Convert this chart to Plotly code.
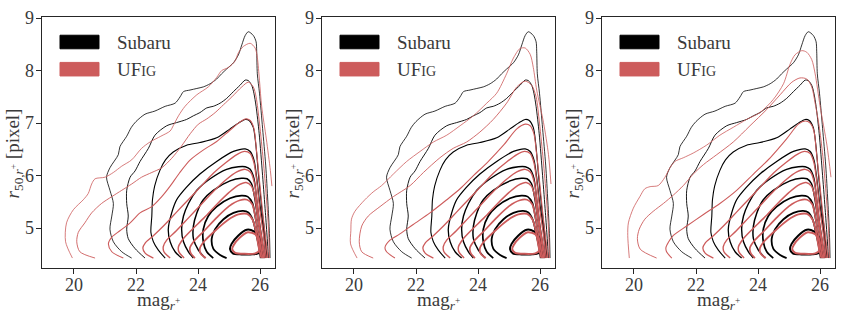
import plotly.graph_objects as go

# ---------------- data: contour lines ----------------
# Axis ticks
X_TICKS = [20, 22, 24, 26]
Y_TICKS = [5, 6, 7, 8, 9]
X_RANGE = [18.96, 26.48]
Y_RANGE = [4.24, 9.02]

# Subaru (black) contour levels, outermost -> innermost, identical in all panels
SUBARU_L1 = [(21.86,4.43),(21.54,4.55),(21.27,4.74),(21.16,4.98),(21.22,5.23),(21.27,5.47),(21.16,5.72),(21.05,5.97),(21.16,6.15),(21.43,6.40),(21.48,6.55),(21.70,6.75),(21.85,6.92),(22.00,7.03),(22.29,7.17),(22.61,7.23),(22.94,7.32),(23.26,7.38),(23.42,7.50),(23.53,7.60),(23.74,7.63),(23.96,7.66),(24.17,7.69),(24.39,7.75),(24.60,7.84),(24.76,7.94),(24.92,8.03),(25.14,8.15),(25.30,8.30),(25.41,8.49),(25.52,8.67),(25.62,8.74),(25.78,8.67),(25.87,8.55),(25.89,8.37),(25.91,7.94),(25.98,7.57),(26.08,6.90),(26.18,6.20),(26.25,5.50),(26.30,4.90),(26.32,4.43)]
SUBARU_L2 = [(22.29,4.43),(21.97,4.61),(21.75,4.80),(21.70,4.98),(21.75,5.23),(21.70,5.47),(21.70,5.72),(21.81,5.97),(21.97,6.09),(22.13,6.27),(22.40,6.52),(22.61,6.77),(22.99,6.95),(23.31,7.01),(23.63,7.07),(23.85,7.14),(24.06,7.20),(24.28,7.29),(24.49,7.32),(24.71,7.38),(24.92,7.47),(25.14,7.60),(25.35,7.72),(25.52,7.82),(25.62,7.81),(25.73,7.72),(25.80,7.57),(25.87,7.32),(25.97,6.80),(26.08,6.00),(26.17,5.30),(26.23,4.80),(26.27,4.43)]
SUBARU_L3 = [(22.94,4.43),(22.72,4.58),(22.56,4.74),(22.48,4.92),(22.51,5.23),(22.53,5.54),(22.60,5.80),(22.77,6.10),(22.95,6.30),(23.20,6.45),(23.63,6.58),(24.06,6.63),(24.60,6.72),(25.03,6.89),(25.30,7.00),(25.52,7.07),(25.65,7.05),(25.78,6.92),(25.86,6.60),(25.95,6.00),(26.05,5.40),(26.15,4.90),(26.22,4.43)]
SUBARU_L4 = [(23.47,4.43),(23.26,4.55),(23.10,4.74),(23.04,4.98),(23.15,5.29),(23.31,5.54),(23.63,5.78),(24.06,6.03),(24.60,6.27),(25.14,6.46),(25.52,6.51),(25.68,6.46),(25.80,6.30),(25.88,6.00),(25.98,5.50),(26.10,5.00),(26.18,4.43)]
SUBARU_L5 = [(23.85,4.43),(23.69,4.55),(23.53,4.74),(23.47,4.98),(23.53,5.23),(23.69,5.47),(23.96,5.72),(24.39,5.94),(24.92,6.12),(25.30,6.17),(25.52,6.17),(25.68,6.12),(25.80,5.95),(25.88,5.60),(25.98,5.10),(26.08,4.70),(26.14,4.43)]
SUBARU_L6 = [(24.23,4.43),(24.01,4.58),(23.85,4.80),(23.85,5.04),(23.96,5.29),(24.17,5.54),(24.49,5.72),(25.03,5.90),(25.40,5.95),(25.58,5.94),(25.72,5.85),(25.82,5.60),(25.92,5.20),(26.03,4.80),(26.10,4.43)]
SUBARU_L7 = [(24.49,4.43),(24.28,4.55),(24.17,4.74),(24.17,4.98),(24.33,5.23),(24.60,5.41),(25.03,5.57),(25.40,5.62),(25.60,5.60),(25.75,5.48),(25.85,5.20),(25.95,4.85),(26.06,4.43)]
SUBARU_L8 = [(24.92,4.43),(24.71,4.49),(24.49,4.61),(24.44,4.80),(24.55,4.98),(24.82,5.17),(25.14,5.29),(25.45,5.33),(25.62,5.30),(25.77,5.15),(25.87,4.90),(25.96,4.65),(26.02,4.43)]
SUBARU_L9 = [(25.57,4.97),(25.30,4.86),(25.08,4.70),(25.03,4.60),(25.12,4.52),(25.40,4.50),(25.75,4.50),(25.97,4.53),(26.00,4.65),(25.97,4.83),(25.80,4.94),(25.57,4.97)]

# UFig (red) outer three levels, per panel
UFIG_P1_L1 = [(19.95,4.43),(19.73,4.74),(19.76,5.10),(19.98,5.35),(20.30,5.54),(20.46,5.66),(20.57,5.84),(20.68,5.94),(21.00,5.97),(21.27,6.06),(21.54,6.18),(21.86,6.30),(22.18,6.52),(22.45,6.64),(22.80,6.75),(23.10,6.85),(23.20,6.95),(23.37,7.14),(23.58,7.32),(23.96,7.54),(24.33,7.69),(24.60,7.87),(24.76,8.00),(24.98,8.06),(25.19,8.18),(25.30,8.34),(25.46,8.46),(25.68,8.52),(25.84,8.43),(25.91,8.25),(25.98,7.81),(26.05,7.32),(26.20,6.70),(26.33,6.10),(26.38,5.80)]
UFIG_P1_L2 = [(20.68,4.43),(20.19,4.55),(20.09,4.74),(20.14,4.92),(20.35,5.10),(20.57,5.29),(20.89,5.47),(21.22,5.60),(21.54,5.72),(21.86,5.84),(22.18,5.97),(22.51,6.06),(22.83,6.15),(23.15,6.33),(23.45,6.55),(23.75,6.80),(24.01,6.98),(24.28,7.08),(24.55,7.20),(24.82,7.35),(25.09,7.50),(25.41,7.69),(25.62,7.78),(25.78,7.69),(25.87,7.50),(25.98,7.00),(26.10,6.30),(26.20,5.60),(26.27,5.00),(26.30,4.43)]
UFIG_P1_L3 = [(21.59,4.43),(21.22,4.55),(21.11,4.70),(21.22,4.83),(21.48,4.95),(21.81,5.10),(22.13,5.29),(22.51,5.41),(22.83,5.60),(23.10,5.80),(23.40,6.05),(23.75,6.30),(24.20,6.50),(24.60,6.65),(25.00,6.85),(25.30,7.00),(25.52,7.08),(25.68,7.05),(25.80,6.90),(25.88,6.50),(25.98,5.90),(26.10,5.20),(26.20,4.70),(26.25,4.43)]

UFIG_P2_L1 = [(20.10,4.43),(19.89,4.70),(19.90,4.95),(19.92,5.17),(20.03,5.32),(20.35,5.54),(20.62,5.69),(20.89,5.81),(21.27,6.03),(21.70,6.27),(22.13,6.46),(22.56,6.64),(22.99,6.77),(23.42,6.95),(23.85,7.14),(24.28,7.38),(24.60,7.57),(24.92,7.94),(25.14,8.24),(25.35,8.42),(25.52,8.43),(25.68,8.31),(25.78,8.06),(25.89,7.63),(26.11,7.01),(26.27,6.40),(26.35,5.84)]
UFIG_P2_L2 = [(20.62,4.43),(20.25,4.55),(20.17,4.74),(20.25,5.04),(20.46,5.23),(20.84,5.41),(21.27,5.60),(21.81,5.81),(22.24,6.06),(22.77,6.34),(23.20,6.52),(23.63,6.64),(24.06,6.83),(24.49,7.07),(24.92,7.38),(25.25,7.69),(25.52,7.80),(25.73,7.72),(25.87,7.50),(25.98,7.00),(26.10,6.30),(26.20,5.60),(26.27,5.00),(26.30,4.43)]
UFIG_P2_L3 = [(21.32,4.43),(21.05,4.55),(21.00,4.63),(21.16,4.77),(21.48,4.89),(21.91,5.07),(22.45,5.29),(22.99,5.54),(23.42,5.75),(23.85,6.00),(24.28,6.24),(24.82,6.58),(25.25,6.89),(25.52,6.98),(25.68,6.95),(25.80,6.80),(25.88,6.45),(25.98,5.90),(26.10,5.20),(26.20,4.70),(26.25,4.43)]

UFIG_P3_L1 = [(19.85,4.43),(19.80,4.86),(19.82,5.10),(19.98,5.38),(20.19,5.60),(20.35,5.75),(20.52,5.79),(20.78,5.81),(21.00,5.97),(21.16,6.15),(21.32,6.27),(21.59,6.34),(21.91,6.43),(22.34,6.58),(22.77,6.77),(23.20,6.92),(23.63,7.07),(24.06,7.20),(24.49,7.45),(24.82,7.75),(25.03,8.12),(25.19,8.30),(25.41,8.38),(25.57,8.35),(25.73,8.21),(25.84,7.94),(26.00,7.32),(26.22,6.58),(26.35,5.97)]
UFIG_P3_L2 = [(20.73,4.43),(20.20,4.60),(20.11,4.80),(20.17,4.98),(20.35,5.17),(20.62,5.32),(20.95,5.47),(21.27,5.63),(21.59,5.81),(21.91,6.03),(22.24,6.21),(22.67,6.40),(23.20,6.64),(23.74,6.95),(24.28,7.26),(24.71,7.54),(25.09,7.78),(25.35,7.86),(25.57,7.84),(25.73,7.69),(25.84,7.38),(25.98,6.90),(26.10,6.30),(26.20,5.60),(26.27,5.00),(26.30,4.43)]
UFIG_P3_L3 = [(21.22,4.43),(21.05,4.55),(21.03,4.63),(21.12,4.74),(21.27,4.86),(21.70,5.04),(22.24,5.26),(22.77,5.47),(23.31,5.72),(23.85,6.03),(24.39,6.34),(24.92,6.70),(25.30,6.98),(25.52,7.04),(25.68,7.00),(25.80,6.85),(25.88,6.45),(25.98,5.90),(26.10,5.20),(26.20,4.70),(26.25,4.43)]

# UFig (red) inner levels, shared by the panels
UFIG_L4 = [(22.56,4.43),(22.30,4.52),(22.22,4.62),(22.30,4.72),(22.55,4.85),(22.90,5.05),(23.30,5.30),(23.70,5.55),(24.10,5.80),(24.50,6.05),(24.90,6.25),(25.25,6.40),(25.50,6.46),(25.68,6.42),(25.80,6.25),(25.88,5.95),(25.98,5.40),(26.10,4.90),(26.20,4.43)]
UFIG_L5 = [(23.10,4.43),(22.90,4.55),(22.88,4.65),(23.00,4.78),(23.30,4.95),(23.70,5.20),(24.10,5.45),(24.50,5.70),(24.90,5.92),(25.25,6.07),(25.52,6.12),(25.70,6.06),(25.82,5.85),(25.90,5.50),(26.00,5.00),(26.10,4.65),(26.16,4.43)]
UFIG_L6 = [(23.55,4.43),(23.38,4.55),(23.37,4.65),(23.50,4.78),(23.80,4.97),(24.20,5.20),(24.60,5.45),(25.00,5.68),(25.30,5.82),(25.55,5.87),(25.72,5.80),(25.83,5.60),(25.92,5.20),(26.03,4.80),(26.12,4.43)]
UFIG_L7 = [(23.90,4.43),(23.76,4.53),(23.74,4.63),(23.88,4.76),(24.20,4.95),(24.60,5.20),(25.00,5.42),(25.35,5.53),(25.58,5.54),(25.75,5.45),(25.85,5.20),(25.95,4.85),(26.08,4.43)]
UFIG_L8 = [(24.25,4.43),(24.08,4.52),(24.06,4.62),(24.20,4.75),(24.55,4.95),(24.95,5.15),(25.30,5.26),(25.58,5.27),(25.75,5.17),(25.86,4.95),(25.95,4.65),(26.04,4.43)]
UFIG_L9 = [(25.60,4.92),(25.35,4.82),(25.15,4.68),(25.10,4.60),(25.20,4.53),(25.50,4.51),(25.85,4.52),(25.98,4.58),(25.98,4.75),(25.85,4.88),(25.60,4.92)]

LEVEL_WIDTHS = [0.8, 0.9, 1.1, 1.3, 1.4, 1.5, 1.7, 1.8, 2.0]
SERIES_NAMES = ["Subaru", "UF<span style='font-size:14px'>IG</span>"]
SUBARU_COLOR = "#000000"
UFIG_COLOR = "#cd5c5c"

SUBARU = [SUBARU_L1, SUBARU_L2, SUBARU_L3, SUBARU_L4, SUBARU_L5,
          SUBARU_L6, SUBARU_L7, SUBARU_L8, SUBARU_L9]
UFIG_INNER = [UFIG_L4, UFIG_L5, UFIG_L6, UFIG_L7, UFIG_L8, UFIG_L9]
UFIG_PANELS = [
    [UFIG_P1_L1, UFIG_P1_L2, UFIG_P1_L3] + UFIG_INNER,
    [UFIG_P2_L1, UFIG_P2_L2, UFIG_P2_L3] + UFIG_INNER,
    [UFIG_P3_L1, UFIG_P3_L2, UFIG_P3_L3] + UFIG_INNER,
]

# ---------------- figure ----------------
W, H = 843, 313
FONT = "Liberation Serif"
TXT = "#262626"
LBL = "#3a3a3a"
panel_px = [(41.7, 275.0), (321.7, 555.0), (601.7, 835.0)]
top_px, bot_px = 8.3, 266.7
ydom = [1 - bot_px / H, 1 - top_px / H]

fig = go.Figure()
for p in range(3):
    sfx = "" if p == 0 else str(p + 1)
    for lev, pts in enumerate(SUBARU):
        fig.add_trace(go.Scatter(
            x=[a for a, b in pts], y=[b for a, b in pts], mode="lines",
            line=dict(color=SUBARU_COLOR, width=LEVEL_WIDTHS[lev], shape="spline", smoothing=0.8),
            xaxis="x" + sfx, yaxis="y" + sfx, showlegend=False, hoverinfo="skip"))
    for lev, pts in enumerate(UFIG_PANELS[p]):
        fig.add_trace(go.Scatter(
            x=[a for a, b in pts], y=[b for a, b in pts], mode="lines",
            line=dict(color=UFIG_COLOR, width=LEVEL_WIDTHS[lev], shape="spline", smoothing=0.8),
            xaxis="x" + sfx, yaxis="y" + sfx, showlegend=False, hoverinfo="skip"))

axis_common = dict(showline=True, mirror=True, linecolor=TXT, linewidth=1.2,
                   ticks="outside", ticklen=5, tickwidth=1.2, tickcolor=TXT,
                   showgrid=False, zeroline=False, ticklabeloverflow="allow",
                   tickfont=dict(family=FONT, size=18, color=LBL))
layout = dict(width=W, height=H, margin=dict(l=0, r=0, t=0, b=0),
              plot_bgcolor="white", paper_bgcolor="white", showlegend=False)
shapes, annotations = [], []
for p, (l, r) in enumerate(panel_px):
    sfx = "" if p == 0 else str(p + 1)
    layout["xaxis" + sfx] = dict(axis_common, domain=[l / W, r / W], range=X_RANGE,
                                 tickvals=X_TICKS, anchor="y" + sfx, ticklabelstandoff=-5)
    layout["yaxis" + sfx] = dict(axis_common, domain=ydom, range=Y_RANGE,
                                 tickvals=Y_TICKS, anchor="x" + sfx, ticklabelstandoff=-2)
    xd, yd = "x" + sfx + " domain", "y" + sfx + " domain"
    for i, (col, name) in enumerate(zip([SUBARU_COLOR, UFIG_COLOR], SERIES_NAMES)):
        y1 = 0.9276 - i * 0.1083
        shapes.append(dict(type="rect", xref=xd, yref=yd, x0=0.0785, x1=0.2456,
                           y0=y1 - 0.054, y1=y1, fillcolor=col, line=dict(color=col, width=1)))
        annotations.append(dict(text=name, xref=xd, yref=yd, x=0.314, y=y1 - 0.027,
                                xanchor="left", yanchor="middle", showarrow=False,
                                font=dict(family=FONT, size=19, color=LBL)))
    annotations.append(dict(text="mag<sub><i>r</i><sup>+</sup></sub>", xref="paper", yref="paper",
                            x=(l + r) / 2 / W, y=1 - 301 / H, xanchor="center", yanchor="middle",
                            showarrow=False, font=dict(family=FONT, size=19, color=LBL)))
    annotations.append(dict(text="<i>r</i><sub>50,<i>r</i><sup>+</sup></sub> [pixel]",
                            xref="paper", yref="paper", x=(l - 28) / W, y=1 - 149 / H,
                            xanchor="center", yanchor="middle", textangle=-90, showarrow=False,
                            font=dict(family=FONT, size=19, color=LBL)))
layout["shapes"] = shapes
layout["annotations"] = annotations
fig.update_layout(**layout)
fig.write_html("out.html", config={"displayModeBar": False},
               post_script="document.body.style.margin='0';document.body.style.overflow='hidden';")
